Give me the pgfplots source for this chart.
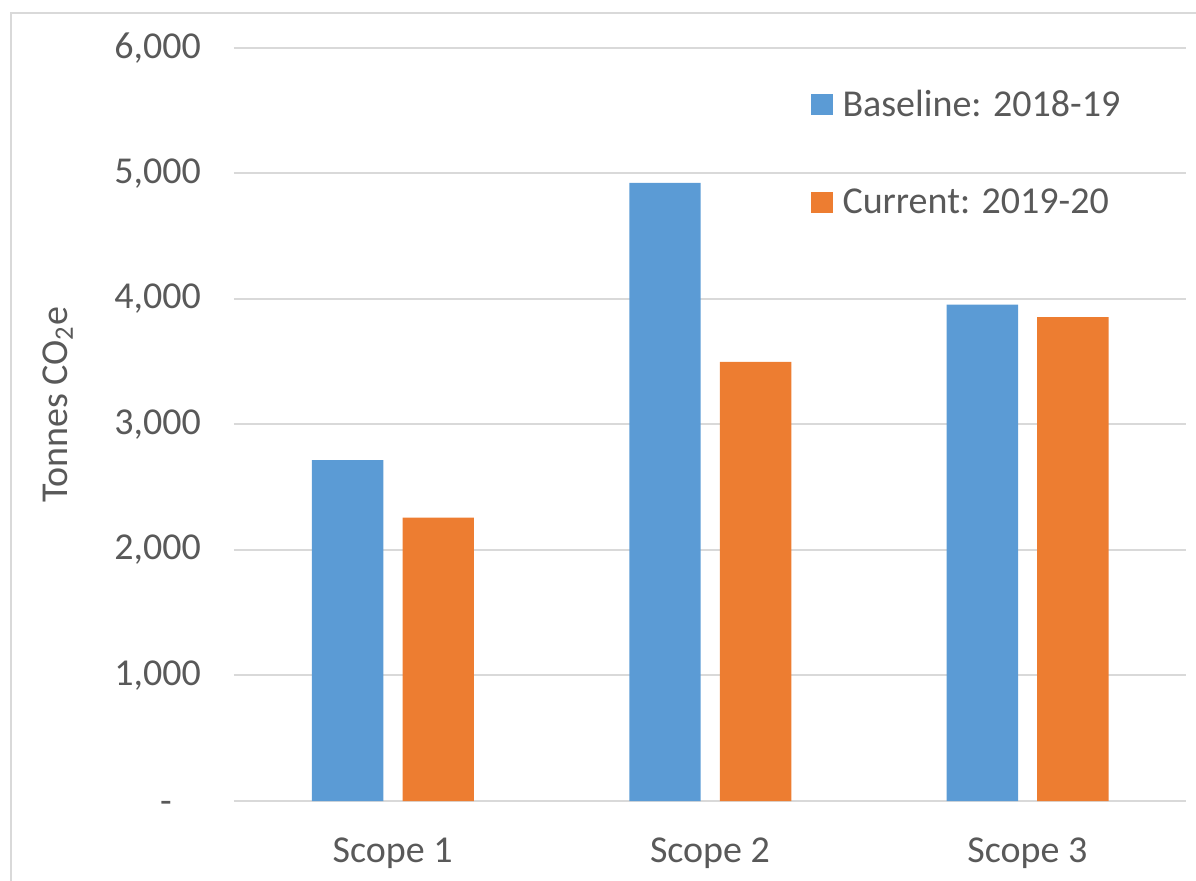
\documentclass[border=0pt]{standalone}
\usepackage{pgfplots}
\pgfplotsset{compat=1.18}
\usepackage{fontspec}
\setmainfont{Carlito}

\definecolor{basecol}{RGB}{91,155,213}
\definecolor{curcol}{RGB}{237,125,49}
\definecolor{txtcol}{RGB}{89,89,89}
\definecolor{gridcol}{RGB}{217,217,217}

\begin{document}
\begin{tikzpicture}
\useasboundingbox (0,0) rectangle (598pt,440pt);
% outer chart frame, cut off at right and bottom
\draw[gridcol, line width=1pt] (5.5pt,-5pt) -- (5.5pt,433.5pt) -- (605pt,433.5pt);
\begin{axis}[
    at={(117pt,39.5pt)}, anchor=south west,
    scale only axis,
    width=476pt, height=376.7pt,
    xmin=-0.5, xmax=2.5,
    ymin=0, ymax=6000,
    xtick={0,1,2},
    xticklabels={Scope 1, Scope 2, Scope 3},
    ytick={0,1000,2000,3000,4000,5000,6000},
    yticklabels={{-\kern5pt\phantom{0}},{1,000},{2,000},{3,000},{4,000},{5,000},{6,000}},
    axis line style={draw=none},
    major tick length=0pt,
    ymajorgrids=true,
    grid style={gridcol, line width=1pt},
    tick label style={font=\fontsize{19}{23}\selectfont, text=txtcol},
    yticklabel style={xshift=-13pt},
    xticklabel style={yshift=-15pt},
    ylabel={Tonnes CO\textsubscript{2}e},
    ylabel style={at={(axis description cs:-0.185,0.526)}, anchor=center,
        font=\fontsize{19}{23}\selectfont, text=txtcol},
    legend style={at={(axis description cs:0.606,0.95)}, anchor=north west,
        draw=none, fill=none, inner sep=0pt, row sep=31pt,
        font=\fontsize{19}{23}\selectfont, text=txtcol,
        nodes={inner xsep=5pt}},
    legend cell align=left,
    legend image code/.code={\fill[#1] (0pt,-5.3pt) rectangle (10.6pt,5.3pt);},
]
\addplot[ybar, bar width=35.7pt, bar shift=-22.5pt, fill=basecol, draw=none]
    coordinates {(0,2714) (1,4922) (2,3953)};
\addlegendentry{Baseline: 2018-19}
\addplot[ybar, bar width=35.7pt, bar shift=22.8pt, fill=curcol, draw=none]
    coordinates {(0,2257) (1,3497) (2,3853)};
\addlegendentry{Current: 2019-20}
\end{axis}
\end{tikzpicture}
\end{document}
